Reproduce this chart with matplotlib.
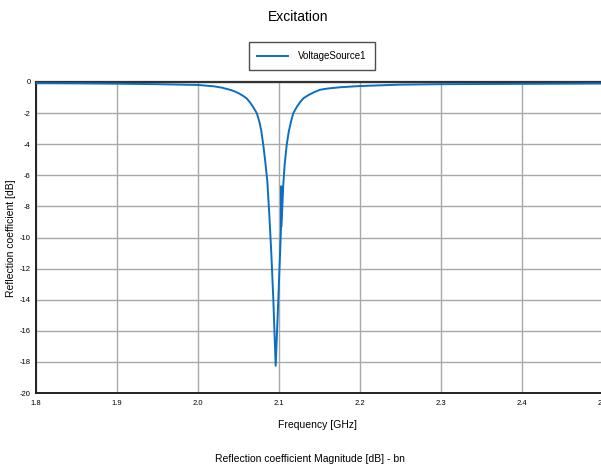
import matplotlib
matplotlib.use('Agg')
import matplotlib.pyplot as plt

# 读图得到的数据点（频率 GHz, 反射系数 dB）
freq_ghz = [1.80, 1.85, 1.90, 1.95, 2.00, 2.02, 2.03, 2.0395, 2.045, 2.05,
            2.055, 2.060, 2.064, 2.068, 2.0725, 2.0755, 2.078, 2.0806, 2.083,
            2.0856, 2.088, 2.0905, 2.093, 2.0959,
            2.0995, 2.1025, 2.1028, 2.1030, 2.1053, 2.107, 2.1095, 2.112, 2.115,
            2.1177, 2.122, 2.126, 2.130, 2.137, 2.1436, 2.1506, 2.16, 2.175,
            2.19, 2.20, 2.2494, 2.30, 2.35, 2.40, 2.45, 2.50]
refl_db = [-0.08, -0.09, -0.11, -0.14, -0.19, -0.28, -0.37, -0.50, -0.60, -0.72,
           -0.87, -1.05, -1.30, -1.60, -2.00, -2.50, -3.10, -4.05, -5.10,
           -6.40, -8.50, -11.0, -14.0, -18.25,
           -13.5, -9.40, -6.70, -9.30, -6.60, -5.30, -4.05, -3.20, -2.50,
           -2.00, -1.60, -1.30, -1.05, -0.82, -0.65, -0.50, -0.42, -0.34,
           -0.29, -0.26, -0.17, -0.14, -0.13, -0.12, -0.11, -0.10]

series_name = 'VoltageSource1'
x_ticks = [1.8, 1.9, 2.0, 2.1, 2.2, 2.3, 2.4, 2.5]
y_ticks = [0, -2, -4, -6, -8, -10, -12, -14, -16, -18, -20]

plt.rcParams['font.family'] = ['Liberation Sans Narrow', 'Liberation Sans', 'DejaVu Sans']

fig = plt.figure(figsize=(6.01, 4.66), dpi=100)
ax = fig.add_axes([36 / 601, 73 / 466, 567 / 601, 311 / 466])

ax.plot(freq_ghz, refl_db, color='#0a6fc2', lw=1.4, label=series_name, zorder=3)

ax.set_xlim(1.8, 2.5)
ax.set_ylim(-20, 0)
ax.set_xticks(x_ticks)
ax.set_xticklabels([f'{v:.1f}' for v in x_ticks])
ax.set_yticks(y_ticks)
ax.set_yticklabels([str(v) for v in y_ticks])
ax.tick_params(axis='x', length=0, labelsize=5.5, pad=5)
ax.tick_params(axis='y', length=0, labelsize=5.5, pad=4)
ax.grid(True, color='#a8a8a8', lw=1.0)

for s in ['left', 'bottom']:
    ax.spines[s].set_linewidth(1.4)
    ax.spines[s].set_color('#222222')
ax.spines['top'].set_linewidth(1.6)
ax.spines['top'].set_color('#333333')
ax.spines['right'].set_visible(False)

fig.text(298 / 601, 1 - 17 / 466, 'Excitation', ha='center', va='center', fontsize=10)
fig.text(11 / 601, 1 - 238 / 466, 'Reflection coefficient [dB]', rotation=90,
         ha='center', va='center', fontsize=7.5)
fig.text(318 / 601, 1 - 425 / 466, 'Frequency [GHz]', ha='center', va='center', fontsize=7.5)
fig.text(310 / 601, 1 - 459 / 466, 'Reflection coefficient Magnitude [dB] - bn',
         ha='center', va='center', fontsize=7.5)

leg = ax.legend(loc='center', bbox_to_anchor=(312 / 601, 1 - 56 / 466),
                bbox_transform=fig.transFigure, fontsize=7, frameon=True,
                fancybox=False, edgecolor='#222222', handlelength=3.2,
                borderpad=0.9, handletextpad=1.0)
leg.get_frame().set_linewidth(1.0)

fig.savefig('out.png', dpi=100)
